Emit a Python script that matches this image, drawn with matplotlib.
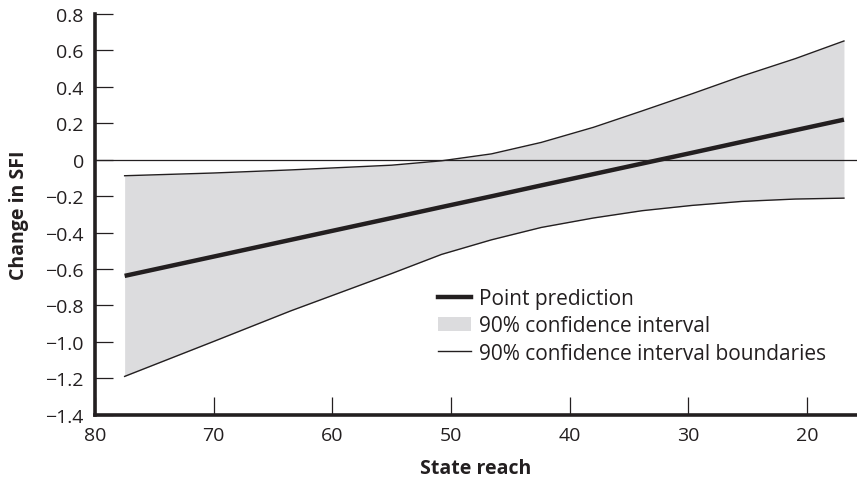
import matplotlib

matplotlib.use("Agg")
import matplotlib.pyplot as plt
from matplotlib.patches import Patch
from matplotlib.lines import Line2D

# State reach values (x axis runs from 80 down to ~16)
reach = [77.5, 70, 63.5, 55, 50.8, 46.6, 42.4, 38, 33.9, 29.7, 25.5, 21, 16.9]
point = [-0.638, -0.532, -0.440, -0.320, -0.260, -0.201, -0.141, -0.079, -0.021, 0.038, 0.098, 0.162, 0.220]
upper = [-0.088, -0.073, -0.056, -0.030, -0.006, 0.032, 0.095, 0.178, 0.268, 0.362, 0.459, 0.555, 0.652]
lower = [-1.190, -0.998, -0.830, -0.625, -0.520, -0.440, -0.372, -0.320, -0.280, -0.251, -0.229, -0.216, -0.211]

y_ticks = [0.8, 0.6, 0.4, 0.2, 0, -0.2, -0.4, -0.6, -0.8, -1.0, -1.2, -1.4]
y_labels = ["0.8", "0.6", "0.4", "0.2", "0", "\u22120.2", "\u22120.4", "\u22120.6",
            "\u22120.8", "\u22121.0", "\u22121.2", "\u22121.4"]
x_ticks = [80, 70, 60, 50, 40, 30, 20]

ink = "#231f20"
band = "#dcdcde"

plt.rcParams["font.family"] = ["Open Sans", "DejaVu Sans"]

fig = plt.figure(figsize=(8.57, 4.85), dpi=100)
ax = fig.add_axes([0.1108, 0.143, 0.8892, 0.826])

ax.fill_between(reach, lower, upper, color=band, linewidth=0)
ax.plot(reach, upper, color=ink, linewidth=1.0)
ax.plot(reach, lower, color=ink, linewidth=1.0)
ax.plot(reach, point, color=ink, linewidth=3.2, solid_capstyle="butt")
ax.axhline(0, color=ink, linewidth=0.9)

ax.set_xlim(80, 15.8)
ax.set_ylim(-1.4, 0.8)
ax.set_xticks(x_ticks)
ax.set_yticks(y_ticks)
ax.set_yticklabels(y_labels)

ax.tick_params(direction="in", length=13, width=0.9, colors=ink, labelsize=14)
ax.tick_params(axis="x", pad=8)
ax.tick_params(axis="y", pad=8)
for side in ("top", "right"):
    ax.spines[side].set_visible(False)
for side in ("left", "bottom"):
    ax.spines[side].set_linewidth(2.6)
    ax.spines[side].set_color(ink)

ax.set_xlabel("State reach", fontsize=14, fontweight="bold", color=ink, labelpad=10)
ax.set_ylabel("Change in SFI", fontsize=14, fontweight="bold", color=ink, labelpad=12)

handles = [
    Line2D([], [], color=ink, linewidth=3.2),
    Patch(facecolor=band, edgecolor="none"),
    Line2D([], [], color=ink, linewidth=1.0),
]
labels = ["Point prediction", "90% confidence interval", "90% confidence interval boundaries"]
fig.legend(handles, labels, loc="upper left", bbox_to_anchor=(0.511, 0.404), frameon=False,
           fontsize=15, handlelength=1.6, handletextpad=0.35, labelspacing=0.3,
           borderpad=0, borderaxespad=0, labelcolor=ink)

fig.savefig("out.png", dpi=100)
